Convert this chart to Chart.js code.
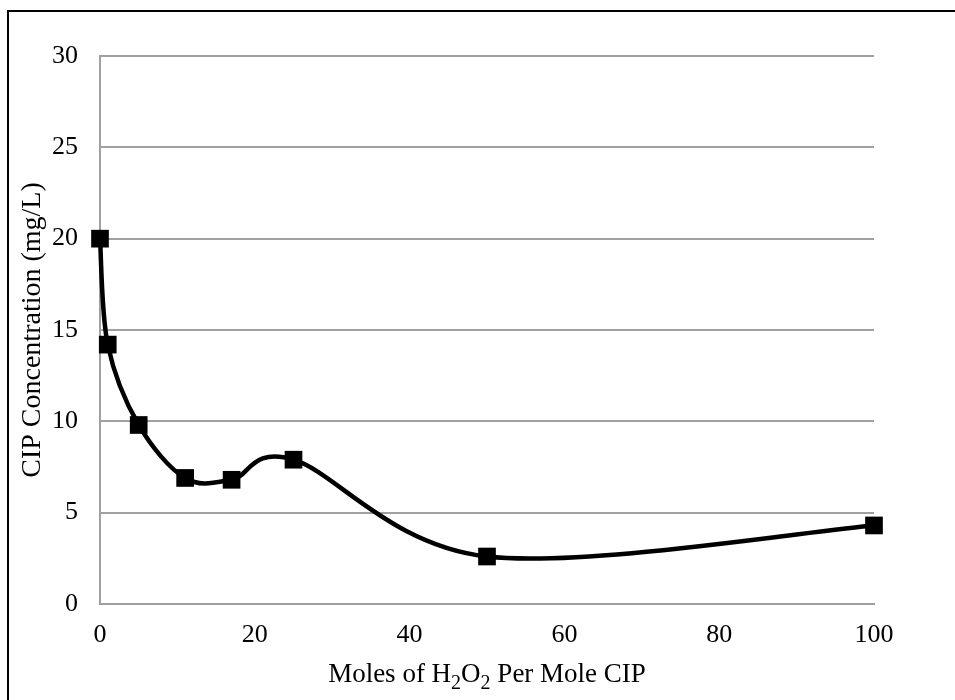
<!DOCTYPE html>
<html>
<head>
<meta charset="utf-8">
<script src="https://cdn.jsdelivr.net/npm/chart.js@4/dist/chart.umd.min.js"></script>
<style>
  html, body { margin: 0; padding: 0; background: #fff; overflow: hidden; }
  #wrap { position: relative; width: 955px; height: 700px; overflow: hidden; }
  #frame { position: absolute; left: 7px; top: 10px; right: 0; bottom: 0; border-left: 2px solid #000; border-top: 2px solid #000; }
</style>
</head>
<body>
<div id="wrap">
  <canvas id="chart" width="955" height="700"></canvas>
  <div id="frame"></div>
</div>
<script>
// Data
const molesH2O2 = [0, 1, 5, 11, 17, 25, 50, 100];
const cipConc = [20, 14.2, 9.8, 6.9, 6.8, 7.9, 2.6, 4.3];
const xTicks = [0, 20, 40, 60, 80, 100];
const yTicks = [0, 5, 10, 15, 20, 25, 30];

const serif = '"Liberation Serif", "Times New Roman", serif';
const gridGray = '#a0a0a0';

// Excel-like smoothing: uniform Catmull-Rom control points on the library's own points
const smoothPlugin = {
  id: 'smooth',
  beforeDatasetDraw(chart, args) {
    const meta = args.meta;
    meta.dataset.updateControlPoints(chart.chartArea, 'x');
    const pts = meta.data;
    const n = pts.length;
    for (let i = 0; i < n; i++) {
      const prev = pts[Math.max(0, i - 1)];
      const next = pts[Math.min(n - 1, i + 1)];
      const tx = (next.x - prev.x) / 6;
      const ty = (next.y - prev.y) / 6;
      pts[i].cp1x = pts[i].x - tx;
      pts[i].cp1y = pts[i].y - ty;
      pts[i].cp2x = pts[i].x + tx;
      pts[i].cp2y = pts[i].y + ty;
    }
  }
};

// x axis title with real subscripts
const xTitlePlugin = {
  id: 'xTitle',
  afterDraw(chart) {
    const ctx = chart.ctx;
    const parts = [
      { t: 'Moles of H', sub: false },
      { t: '2', sub: true },
      { t: 'O', sub: false },
      { t: '2', sub: true },
      { t: ' Per Mole CIP', sub: false },
    ];
    const big = '27px ' + serif, small = '20px ' + serif;
    ctx.save();
    ctx.fillStyle = '#000';
    ctx.textBaseline = 'alphabetic';
    let total = 0;
    parts.forEach(p => { ctx.font = p.sub ? small : big; p.w = ctx.measureText(p.t).width; total += p.w; });
    const area = chart.chartArea;
    let x = (area.left + area.right) / 2 - total / 2;
    const base = 682;
    parts.forEach(p => {
      ctx.font = p.sub ? small : big;
      ctx.fillText(p.t, x, p.sub ? base + 7 : base);
      x += p.w;
    });
    ctx.restore();
  }
};

new Chart(document.getElementById('chart').getContext('2d'), {
  type: 'line',
  data: {
    datasets: [{
      data: molesH2O2.map((x, i) => ({ x: x, y: cipConc[i] })),
      borderColor: '#000',
      backgroundColor: '#000',
      borderWidth: 4.5,
      tension: 0.4,
      pointStyle: 'rect',
      pointRadius: 12.5,
      pointBorderWidth: 0,
      clip: false,
    }],
  },
  options: {
    responsive: false,
    animation: false,
    events: [],
    layout: { padding: { left: 0, top: 56, right: 81, bottom: 0 } },
    plugins: { legend: { display: false }, tooltip: { enabled: false } },
    scales: {
      x: {
        type: 'linear',
        min: 0,
        max: 100,
        afterBuildTicks: s => { s.ticks = xTicks.map(v => ({ value: v })); },
        afterFit: s => { s.height = 96; },
        grid: { display: false, drawTicks: false },
        border: { display: true, color: gridGray, width: 2 },
        ticks: { color: '#000', font: { family: serif, size: 26 }, padding: 16, maxRotation: 0 },
      },
      y: {
        min: 0,
        max: 30,
        afterBuildTicks: s => { s.ticks = yTicks.map(v => ({ value: v })); },
        afterFit: s => { s.width = 100; },
        grid: { color: gridGray, lineWidth: 2, drawTicks: false },
        border: { display: true, color: gridGray, width: 2 },
        ticks: { color: '#000', font: { family: serif, size: 26 }, padding: 22 },
        title: {
          display: true,
          text: 'CIP Concentration (mg/L)',
          color: '#000',
          font: { family: serif, size: 28 },
          padding: { top: 16, bottom: 0 },
        },
      },
    },
  },
  plugins: [smoothPlugin, xTitlePlugin],
});
</script>
</body>
</html>
